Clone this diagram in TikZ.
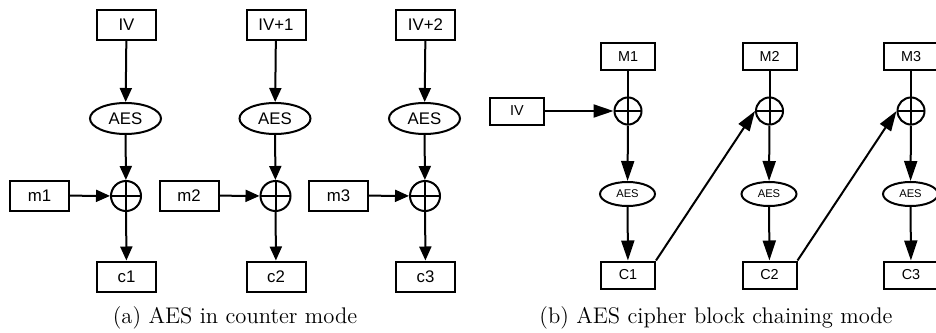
\documentclass[tikz,border=0pt]{standalone}
\usepackage{fontspec}
\usetikzlibrary{positioning, arrows.meta, shapes.geometric}
\newfontfamily\labelfont{Liberation Sans}

\begin{document}
\begin{tikzpicture}[
    x=0.5pt, y=-0.5pt,
    ->,>={Triangle[length=7pt,width=6pt]},
    node distance=74.75pt,
    ctrbox/.style={draw, line width=1pt, minimum width=29.5pt, minimum height=15pt, inner sep=0pt, font=\labelfont\fontsize{8.4}{9}\selectfont},
    ctraes/.style={draw, ellipse, line width=1pt, minimum width=35.5pt, minimum height=15.5pt, inner sep=0pt, font=\labelfont\fontsize{8.4}{9}\selectfont},
    ctrxor/.style={draw, circle, line width=1pt, minimum size=15pt, inner sep=0pt,
        path picture={\draw[-, line width=1pt] (path picture bounding box.north) -- (path picture bounding box.south)
                      (path picture bounding box.west) -- (path picture bounding box.east);}},
    cbcbox/.style={ctrbox, minimum width=27pt, minimum height=13.5pt, font=\labelfont\fontsize{7.2}{8}\selectfont},
    cbcaes/.style={ctraes, minimum width=27.5pt, minimum height=12pt, font=\labelfont\fontsize{5.6}{6}\selectfont},
    cbcxor/.style={ctrxor, minimum size=13.5pt},
    caption/.style={font=\fontsize{11.3}{13}\selectfont},
    every edge/.style={draw, line width=1pt}
]
    \useasboundingbox (0,0) rectangle (936,332);

    % (a) counter mode
    \node[ctrbox] (iva) at (126.5,25) {IV};
    \node[ctrbox, right of=iva] (ivb) {IV+1};
    \node[ctrbox, right of=ivb] (ivc) {IV+2};
    \node[ctraes] (aesa) at (125.5,118.5) {AES};
    \node[ctraes, right of=aesa] (aesb) {AES};
    \node[ctraes, right of=aesb] (aesc) {AES};
    \node[ctrxor] (xa) at (126,196) {};
    \node[ctrxor, right of=xa] (xb) {};
    \node[ctrxor, right of=xb] (xc) {};
    \node[ctrbox] (ma) at (39.5,195.5) {m1};
    \node[ctrbox, right of=ma] (mb) {m2};
    \node[ctrbox, right of=mb] (mc) {m3};
    \node[ctrbox] (ca) at (126.5,276.5) {c1};
    \node[ctrbox, right of=ca] (cb) {c2};
    \node[ctrbox, right of=cb] (cc) {c3};

    \path (iva) edge (aesa)  (aesa) edge (xa)  (ma) edge (xa)  (xa) edge (ca)
          (ivb) edge (aesb)  (aesb) edge (xb)  (mb) edge (xb)  (xb) edge (cb)
          (ivc) edge (aesc)  (aesc) edge (xc)  (mc) edge (xc)  (xc) edge (cc);

    \node[caption] (capa) at (235,318) {(a) AES in counter mode};

    % (b) cipher block chaining
    \begin{scope}[node distance=70.75pt, >={Triangle[length=10pt,width=6.5pt]}]
        \node[cbcbox] (pa) at (628,56.5) {M1};
        \node[cbcbox, right of=pa] (pb) {M2};
        \node[cbcbox, right of=pb] (pc) {M3};
        \node[cbcbox] (iv) at (517,111) {IV};
        \node[cbcxor] (ya) at (628,111) {};
        \node[cbcxor, right of=ya] (yb) {};
        \node[cbcxor, right of=yb] (yc) {};
        \node[cbcaes] (ea) at (627.5,194) {AES};
        \node[cbcaes, right of=ea] (eb) {AES};
        \node[cbcaes, right of=eb] (ec) {AES};
        \node[cbcbox] (ka) at (628,275) {C1};
        \node[cbcbox, right of=ka] (kb) {C2};
        \node[cbcbox, right of=kb] (kc) {C3};

        \path (pa) edge[-] (ya)  (iv) edge (ya)  (ya) edge (ea)  (ea) edge (ka)
              (pb) edge[-] (yb)  (yb) edge (eb)  (eb) edge (kb)
              (pc) edge[-] (yc)  (yc) edge (ec)  (ec) edge (kc)
              (ka.north east) edge (yb.west)
              (kb.north east) edge (yc.west);
    \end{scope}

    \node[caption] (capb) at (716,318) {(b) AES cipher block chaining mode};
\end{tikzpicture}
\end{document}
